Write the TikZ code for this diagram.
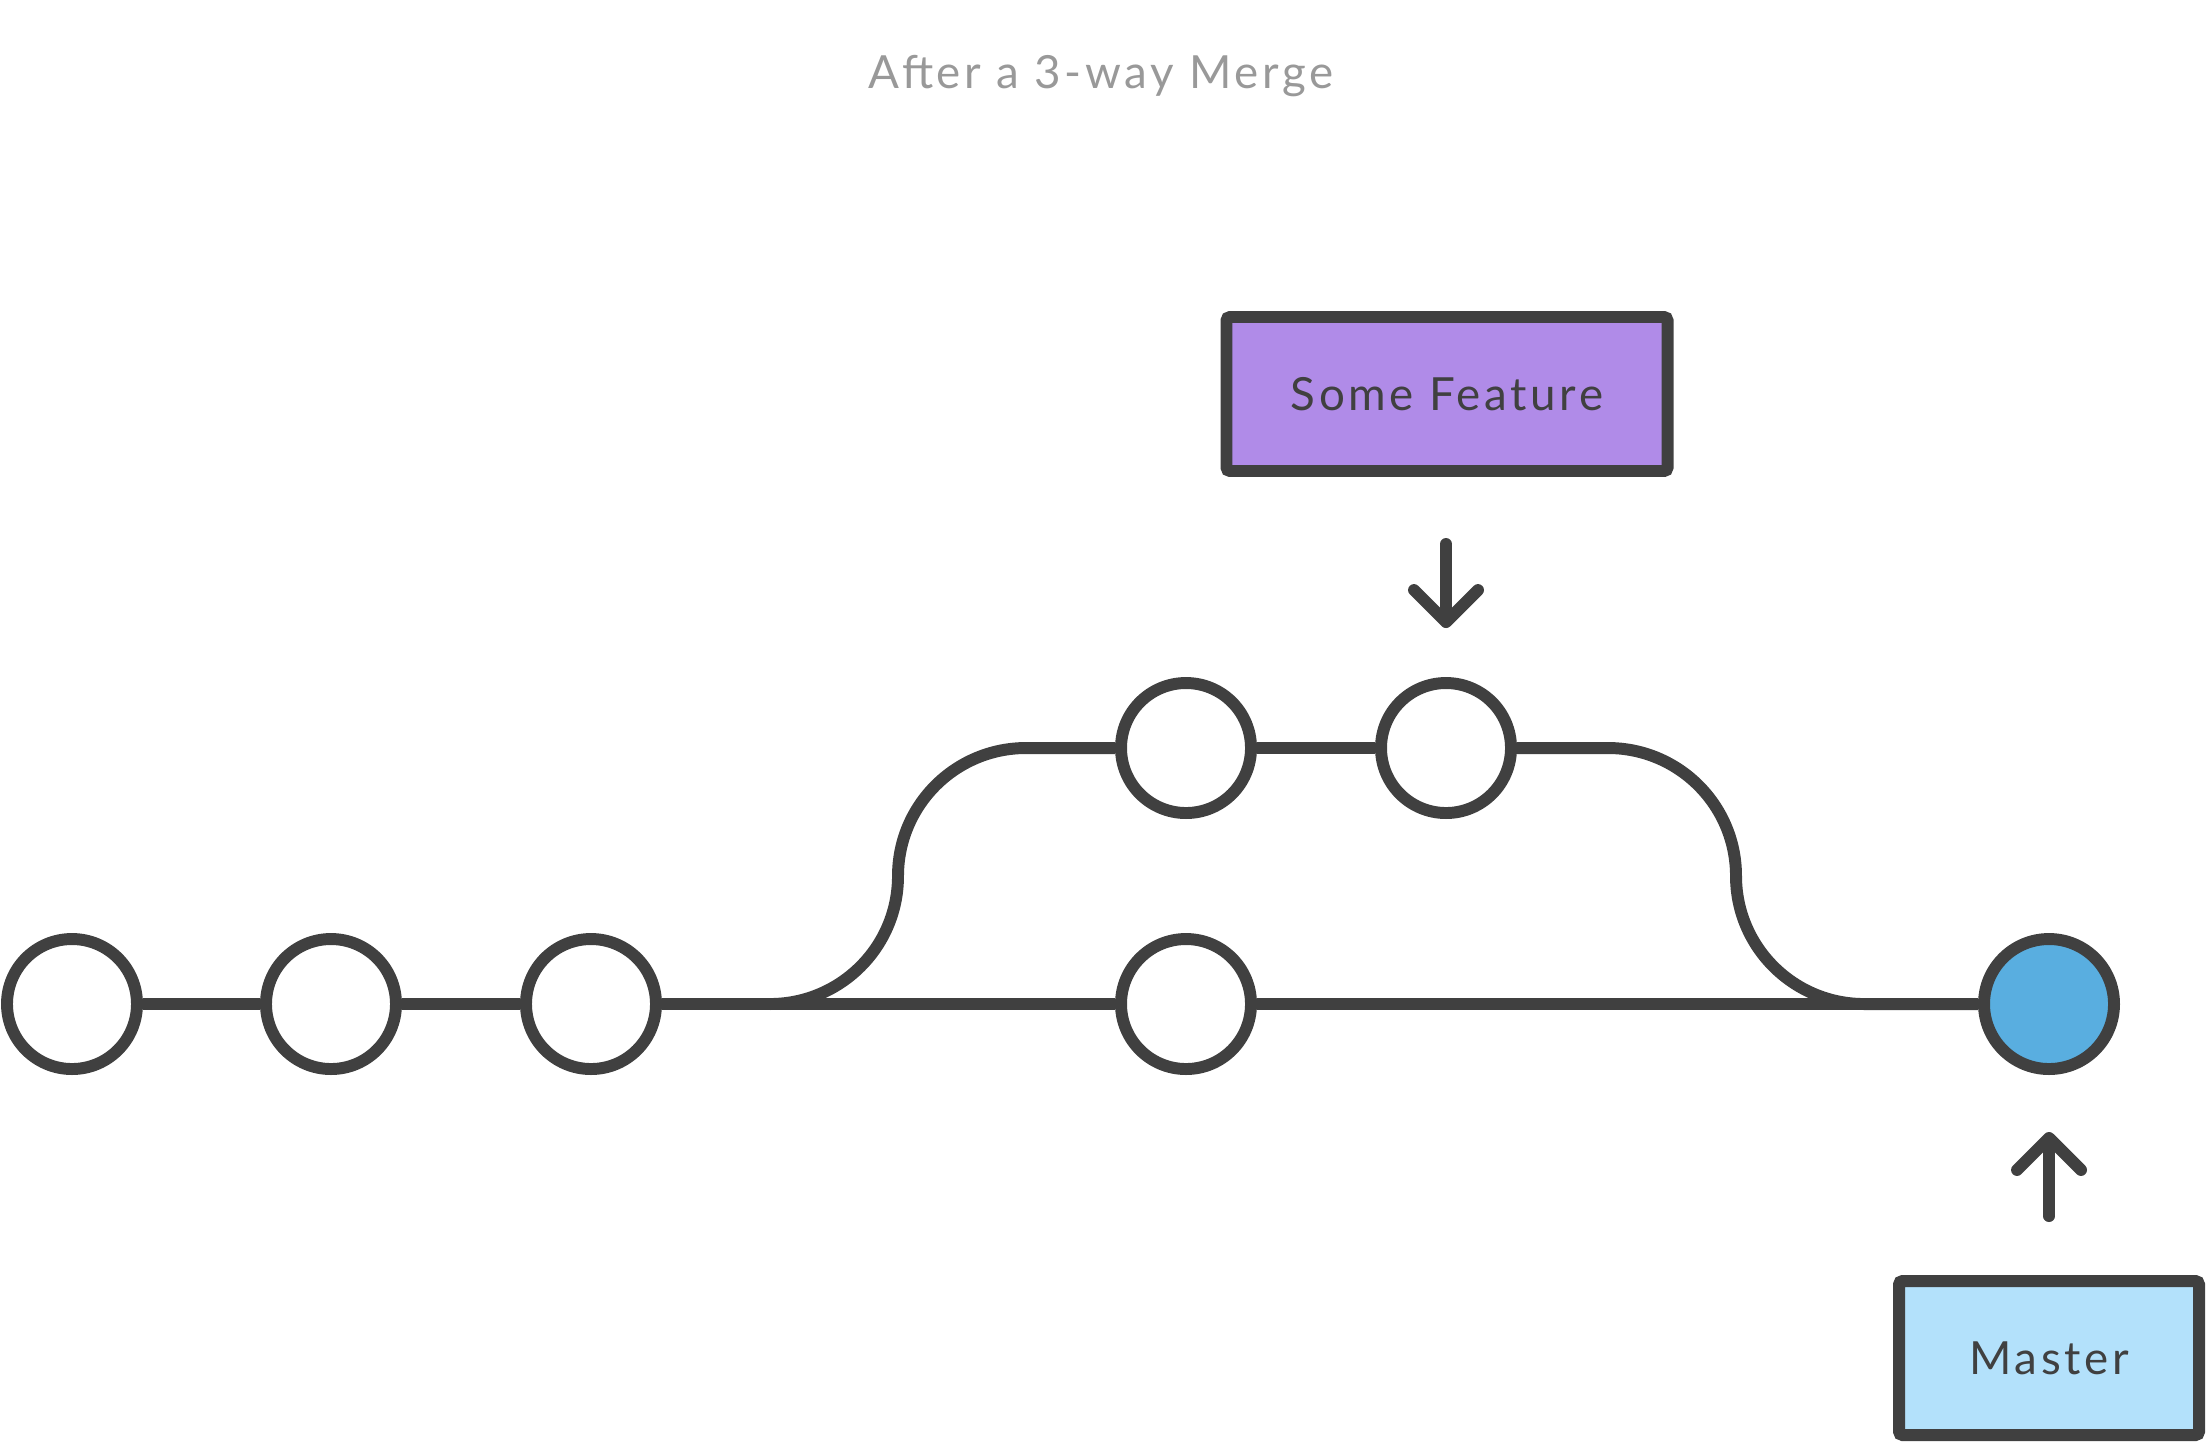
\documentclass[tikz,border=0pt]{standalone}
\usepackage{fontspec}
\usepackage{xcolor}
\usepackage{tikz}
\usetikzlibrary{arrows.meta}
\usetikzlibrary{positioning}

\newfontfamily\gitfont[LetterSpace=8]{Lato}
\definecolor{ink}{HTML}{404040}
\definecolor{titlegray}{HTML}{999999}
\definecolor{featurepurple}{HTML}{B08BE8}
\definecolor{masterblue}{HTML}{B3E1FB}
\definecolor{headblue}{HTML}{59AEE0}

\begin{document}
\begin{tikzpicture}[
    line width=3.4pt, draw=ink,
    commit/.style={circle, draw=ink, fill=white, minimum size=1.3cm, inner sep=0pt},
    head commit/.style={commit, fill=headblue},
    branch label/.style={rectangle, draw=ink, rounded corners=1pt, minimum width=#1,
      minimum height=1.54cm, text=ink, font=\fontsize{13pt}{15pt}\selectfont\gitfont},
    pointer/.style={draw=ink, line cap=round,
      -{Straight Barb[length=0.32cm, width=0.64cm, round]}}
  ]
  \useasboundingbox (0,0) rectangle (22.06,-14.42);

  % Title
  \node[text=titlegray, font=\fontsize{13pt}{15pt}\selectfont\gitfont] (title) at (11.01,-0.76) {After a 3-way Merge};

  % Commits
  \node[commit] (c1) at (0.72,-10.04)  {};
  \node[commit] (c2) at (3.31,-10.04)  {};
  \node[commit] (c3) at (5.91,-10.04)  {};
  \node[commit] (c4) at (11.86,-10.04) {};
  \node[head commit] (merge) at (20.49,-10.04) {};
  \node[commit] (f1) at (11.86,-7.48)  {};
  \node[commit] (f2) at (14.46,-7.48)  {};

  % Branch labels
  \node[branch label=4.41cm, fill=featurepurple] (feature) at (14.47,-3.94) {Some Feature};
  \node[branch label=3cm, fill=masterblue] (master) at (20.49,-13.58) {Master};

  % History
  \draw (c1) -- (c2);
  \draw (c2) -- (c3);
  \draw (c3) -- (c4);
  \draw (c4) -- (merge);
  \draw (f1) -- (f2);

  % Fork and join of the feature branch
  \coordinate (fork) at (7.70,-10.04);
  \coordinate (join) at (16.08,-7.48);
  \draw (fork) arc[start angle=-90, end angle=0, radius=1.28]
               arc[start angle=180, end angle=90, radius=1.28] -- (f1);
  \draw (f2) -- (join) arc[start angle=90, end angle=0, radius=1.28]
               arc[start angle=180, end angle=270, radius=1.28] -- (merge);

  % Pointers
  \draw[pointer] ([yshift=-0.67cm]f2.north |- feature.south) -- ([yshift=0.49cm]f2.north);
  \draw[pointer] ([yshift=0.59cm]master.north) -- ([yshift=-0.57cm]merge.south);

\end{tikzpicture}
\end{document}
